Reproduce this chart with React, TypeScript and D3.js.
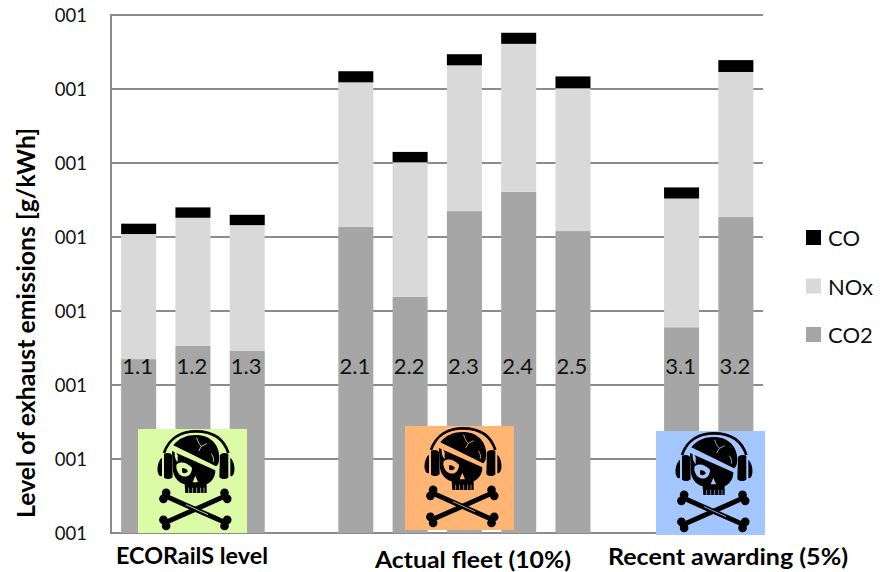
import React from "react";
import * as d3 from "d3";

const categories = ["1.1","1.2","1.3","gap1","2.1","2.2","2.3","2.4","2.5","gap2","3.1","3.2"];
const co2 = [2.35,2.53,2.46,0,4.14,3.19,4.35,4.61,4.08,0,2.78,4.27];
const nox = [1.69,1.73,1.70,0,1.95,1.82,1.97,2.0,1.93,0,1.74,1.96];
const co = [0.14,0.14,0.14,0,0.15,0.14,0.15,0.15,0.16,0,0.15,0.16];
const tickValues = [0,1,2,3,4,5,6,7];
const tickLabel = "001";
const legendNames = ["CO","NOx","CO2"];
const seriesColors: Record<string,string> = { CO2:"#a6a6a6", NOx:"#d9d9d9", CO:"#000000" };
const groupLabels = ["ECORailS level","Actual fleet (10%)","Recent awarding (5%)"];
const yTitle = "Level of exhaust emissions [g/kWh]";
const FONT = "Lato, 'Open Sans', sans-serif";

const rows = categories.map((c,i)=>({ c, CO2:co2[i], NOx:nox[i], CO:co[i] }));
const stack = d3.stack<any>().keys(["CO2","NOx","CO"])(rows);
const x = d3.scaleBand<string>().domain(categories).range([111.5,763]).paddingInner(0.355).paddingOuter(0.1775);
const y = d3.scaleLinear().domain([0,7]).range([533,15]);

function Bone({x1,y1,x2,y2}:{x1:number;y1:number;x2:number;y2:number}) {
  const a = Math.atan2(y2-y1,x2-x1), nx=-Math.sin(a)*10, ny=Math.cos(a)*10;
  const ux=Math.cos(a)*4, uy=Math.sin(a)*4;
  const knob=(px:number,py:number,k:string,s:number)=>(
    <g key={k}>
      <circle cx={px+nx-ux*s} cy={py+ny-uy*s} r={13} fill="#000"/>
      <circle cx={px-nx-ux*s} cy={py-ny-uy*s} r={13} fill="#000"/>
    </g>);
  return <g>
    <line x1={x1} y1={y1} x2={x2} y2={y2} stroke="#000" strokeWidth={15}/>
    {knob(x1,y1,"a",1)}{knob(x2,y2,"b",-1)}
  </g>;
}

function Skull({px,py,bg}:{px:number;py:number;bg:string}) {
  return <g transform={`translate(${px},${py})`}>
    <rect x={0} y={0} width={109} height={104} fill={bg}/>
    <g transform="scale(0.3333) translate(-6,-6)">
      <path d="M84,78 C100,30 140,13 180,13 C225,13 262,30 277,78" fill="none" stroke="#000" strokeWidth={8}/>
      <path d="M84,80 C95,76 105,78 108,84 L110,150 C104,158 92,158 84,152 Z" fill="#000"/>
      <path d="M78,92 C66,100 62,125 66,138 C68,146 74,150 78,146 Z" fill="#000"/>
      <path d="M277,80 C266,76 256,78 252,84 L250,150 C256,158 268,158 277,152 Z" fill="#000"/>
      <path d="M283,92 C294,100 298,125 294,138 C292,146 286,150 283,146 Z" fill="#000"/>
      <path d="M112,55 C130,30 160,22 185,24 C225,26 250,55 250,90 C250,105 246,115 240,118 Z" fill="#000"/>
      <path d="M108,72 L238,130 C238,150 228,165 212,172 L212,198 L148,198 L146,172 C125,165 112,150 110,125 Z" fill="#000"/>
      <path d="M122,112 C134,102 152,106 168,122 C168,140 156,152 140,148 C126,144 118,125 122,112 Z" fill={bg}/>
      <path d="M138,124 C146,122 152,126 156,132 C150,140 144,140 138,136 Z" fill="#000"/>
      <path d="M178,146 L186,166 L170,166 Z" fill={bg}/>
      <path d="M117,70 C114,85 118,100 125,105 L125,85 Z" fill={bg}/>
      {[158,170,182,194,204].map(t=><line key={t} x1={t} y1={182} x2={t} y2={198} stroke={bg} strokeWidth={2}/>)}
      <path d="M108,62 L240,124" stroke={bg} strokeWidth={8} fill="none"/>
      <path d="M182,32 C186,45 188,50 196,58 M196,58 L212,50 M196,58 L188,72 M226,80 C232,90 234,95 232,104" stroke={bg} strokeWidth={2.5} fill="none"/>
      <Bone x1={90} y1={208} x2={266} y2={286}/>
      <Bone x1={266} y1={208} x2={90} y2={286}/>
      <line x1={150} y1={233} x2={216} y2={263} stroke={bg} strokeWidth={2.5}/>
    </g>
  </g>;
}

export default function App() {
  return <svg width={887} height={572} style={{position:"absolute",left:0,top:0,background:"#fff"}} fontFamily={FONT}>
    {tickValues.map(t=><g key={t}>
      <line x1={110} x2={763} y1={y(t)} y2={y(t)} stroke="#8c8c8c" strokeWidth={2}/>
      <text x={87} y={y(t)+6.5} textAnchor="end" fontSize={18.5} fill="#111">{tickLabel}</text>
    </g>)}
    <line x1={111} x2={111} y1={14} y2={534} stroke="#8c8c8c" strokeWidth={2}/>
    {stack.map(s=><g key={s.key}>
      {s.map(d=>d[1]>d[0] ? <rect key={d.data.c} x={x(d.data.c)} width={x.bandwidth()} y={y(d[1])} height={y(d[0])-y(d[1])} fill={seriesColors[s.key]}/> : null)}
    </g>)}
    {categories.filter(c=>!c.startsWith("gap")).map(c=><text key={c} x={x(c)!+x.bandwidth()/2-1} y={374} textAnchor="middle" fontSize={22} fill="#111">{c}</text>)}
    <Skull px={138} py={429} bg="#dcfba6"/>
    <Skull px={405} py={426} bg="#ffb574"/>
    <Skull px={656} py={431} bg="#a3c6ff"/>
    <text transform="translate(35,323) rotate(-90)" textAnchor="middle" fontSize={24} fontWeight={700} fill="#000" textLength={390} lengthAdjust="spacingAndGlyphs">{yTitle}</text>
    <text x={116} y={564} fontSize={23.5} fontWeight={700} fill="#000" textLength={152} lengthAdjust="spacingAndGlyphs">{groupLabels[0]}</text>
    <text x={375} y={568} fontSize={23.5} fontWeight={700} fill="#000" textLength={196} lengthAdjust="spacingAndGlyphs">{groupLabels[1]}</text>
    <text x={608} y={565} fontSize={23.5} fontWeight={700} fill="#000" textLength={240} lengthAdjust="spacingAndGlyphs">{groupLabels[2]}</text>
    {legendNames.map((n,i)=><g key={n}>
      <rect x={806} y={230+i*48.5} width={15} height={15} fill={seriesColors[n]}/>
      <text x={828} y={246+i*48.5} fontSize={22} fill="#111">{n}</text>
    </g>)}
  </svg>;
}
